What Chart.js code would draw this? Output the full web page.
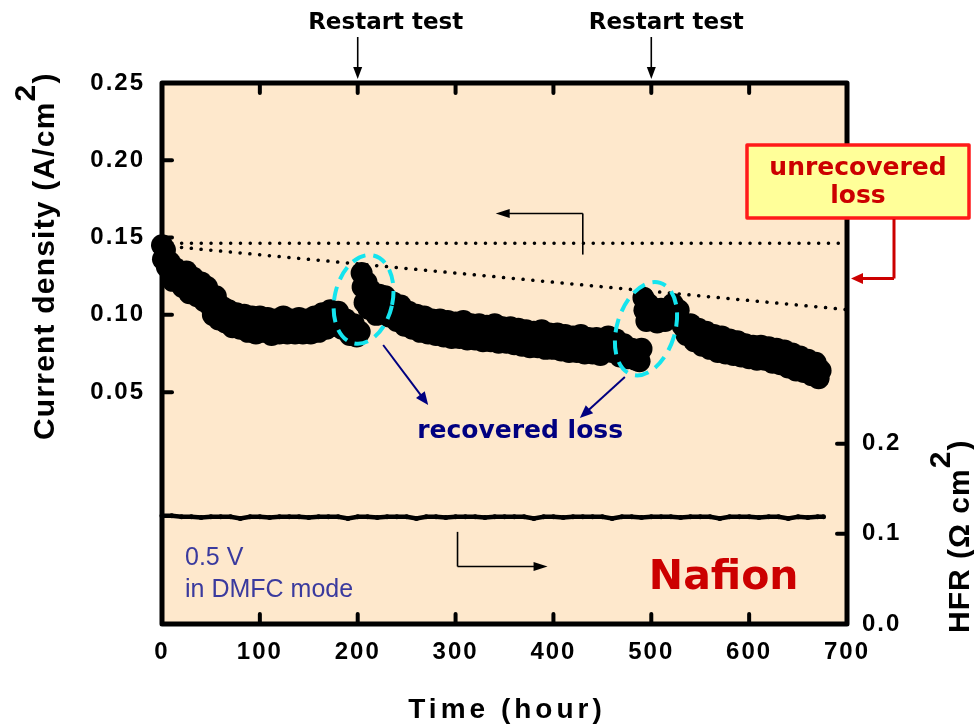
<!DOCTYPE html>
<html>
<head>
<meta charset="utf-8">
<script src="https://cdn.jsdelivr.net/npm/chart.js@4.4.1/dist/chart.umd.min.js"></script>
<style>
html, body { margin: 0; padding: 0; background: #fff; }
#wrap { width: 974px; height: 725px; }
</style>
</head>
<body>
<div id="wrap"><canvas id="chart" width="974" height="725"></canvas></div>
<script>
// current density (A/cm2) vs time (hour)
var cdHours = [
  0,1,3,5,8,11,14,18,21,25,
  28,32,36,40,43,46,49,52,55,58,
  62,65,68,72,76,80,84,88,92,96,
  100,104,108,112,116,120,124,128,132,136,
  140,144,148,152,156,160,164,168,172,176,
  180,184,188,192,196,199,202,204,205,207,
  209,211,213,216,219,222,225,228,232,236,
  240,244,248,252,256,260,264,268,272,276,
  280,284,288,292,296,300,304,308,312,316,
  320,324,328,332,336,340,344,348,352,356,
  360,364,368,372,376,380,384,388,392,396,
  400,404,408,412,416,420,424,428,432,436,
  440,444,448,452,456,460,464,468,472,476,
  480,484,488,490,492,493,495,497,500,503,
  506,510,514,518,522,525,528,532,536,540,
  544,548,552,556,560,564,568,572,576,580,
  584,588,592,596,600,604,608,612,616,620,
  624,628,632,636,640,644,648,652,656,660,
  664,668,671,673
];
var cdValues = [
  .145,.136,.142,.131,.134,.122,.130,.126,.118,.128,
  .114,.124,.112,.121,.109,.118,.106,.100,.112,.097,
  .105,.095,.103,.092,.101,.091,.100,.089,.099,.088,
  .099,.089,.098,.087,.097,.088,.099,.088,.097,.088,
  .098,.088,.097,.088,.099,.089,.101,.091,.103,.093,
  .102,.091,.097,.087,.094,.086,.089,.127,.118,.108,
  .121,.104,.116,.109,.100,.113,.102,.112,.099,.108,
  .096,.106,.093,.102,.091,.100,.089,.099,.088,.097,
  .087,.097,.086,.096,.085,.095,.085,.096,.084,.094,
  .084,.094,.083,.093,.083,.094,.082,.092,.082,.092,
  .081,.091,.080,.090,.079,.089,.079,.090,.078,.088,
  .078,.088,.077,.087,.076,.086,.076,.087,.075,.085,
  .075,.085,.074,.084,.086,.076,.084,.073,.081,.072,
  .078,.071,.070,.078,.111,.103,.096,.107,.097,.104,
  .095,.104,.096,.103,.107,.098,.103,.093,.087,.094,
  .083,.091,.080,.089,.078,.087,.076,.086,.075,.084,
  .074,.083,.073,.081,.072,.080,.071,.080,.071,.079,
  .069,.078,.068,.077,.066,.075,.064,.073,.063,.071,
  .061,.069,.059,.064
];

// HFR (ohm cm2) vs time
var hfrHours = [0,10,20,30,40,50,60,70,80,90,100,110,120,130,140,150,160,170,180,190,
  200,210,220,230,240,250,260,270,280,290,300,310,320,330,340,350,360,370,380,390,
  400,410,420,430,440,450,460,470,480,490,500,510,520,530,540,550,560,570,580,590,
  600,610,620,630,640,650,660,670,676];
var hfrValues = [.120,.120,.119,.119,.118,.119,.119,.119,.117,.119,.119,.118,.119,.119,.119,.118,.119,.119,.119,.117,
  .119,.119,.118,.119,.119,.119,.117,.119,.119,.118,.119,.119,.119,.118,.119,.119,.119,.119,.117,.119,
  .119,.118,.119,.119,.119,.119,.117,.119,.119,.118,.119,.119,.119,.118,.119,.119,.119,.117,.119,.119,
  .119,.118,.119,.119,.117,.119,.118,.119,.119];

// dotted guide lines
var guideHours = [0, 700];
var flatGuide = [0.1463, 0.1463];
var slopeGuide = [0.1448, 0.1034];

var xTicks = [0, 100, 200, 300, 400, 500, 600, 700];
var leftTickLabels = [0.05, 0.10, 0.15, 0.20, 0.25];
var rightTickLabels = [0.0, 0.1, 0.2];
var restartHours = [200, 500];

function pts(xs, ys) {
  return xs.map(function (x, i) { return { x: x, y: ys[i] }; });
}

var SANS = '"Liberation Sans", Arial, sans-serif';
var VERD = '"DejaVu Sans", Verdana, sans-serif';

function line(c, x1, y1, x2, y2) {
  c.beginPath(); c.moveTo(x1, y1); c.lineTo(x2, y2); c.stroke();
}
function head(c, x, y, ang, len, wid) {
  c.save(); c.translate(x, y); c.rotate(ang);
  c.beginPath(); c.moveTo(0, 0); c.lineTo(-len, -wid / 2); c.lineTo(-len, wid / 2); c.closePath();
  c.fill(); c.restore();
}
function arrow(c, x1, y1, x2, y2, len, wid) {
  var ang = Math.atan2(y2 - y1, x2 - x1);
  line(c, x1, y1, x2 - Math.cos(ang) * len * 0.8, y2 - Math.sin(ang) * len * 0.8);
  head(c, x2, y2, ang, len, wid);
}
function supTitle(c, main, sup, tail, size, spacing) {
  c.letterSpacing = spacing + 'px';
  c.font = 'bold ' + size + 'px ' + SANS;
  c.textAlign = 'left'; c.textBaseline = 'alphabetic';
  var w1 = c.measureText(main).width;
  c.fillText(main, 0, 0);
  c.fillText(sup, w1, -size * 0.62);
  var w2 = c.measureText(sup).width;
  c.fillText(tail, w1 + w2, 0);
}

var decor = {
  id: 'decor',
  beforeDraw: function (chart) {
    chart.ctx.letterSpacing = '2px';
  },
  beforeDatasetsDraw: function (chart) {
    var a = chart.chartArea, c = chart.ctx;
    c.save();
    c.fillStyle = '#FEE8CC';
    c.fillRect(a.left, a.top, a.right - a.left, a.bottom - a.top);
    c.restore();
  },
  afterDatasetsDraw: function (chart) {
    var a = chart.chartArea, c = chart.ctx;
    var sx = chart.scales.x, sy = chart.scales.y, sy2 = chart.scales.y2;
    c.save();

    // frame and inward ticks
    c.strokeStyle = '#000'; c.lineWidth = 5; c.lineJoin = 'round';
    c.strokeRect(a.left, a.top, a.right - a.left, a.bottom - a.top);
    c.lineWidth = 4; c.lineCap = 'round';
    xTicks.slice(1, -1).forEach(function (v) {
      var px = sx.getPixelForValue(v);
      line(c, px, a.top, px, a.top + 10);
      line(c, px, a.bottom, px, a.bottom - 10);
    });
    leftTickLabels.slice(0, -1).forEach(function (v) {
      var py = sy.getPixelForValue(v);
      line(c, a.left, py, a.left + 10, py);
    });
    rightTickLabels.slice(1).forEach(function (v) {
      var py = sy2.getPixelForValue(v);
      line(c, a.right, py, a.right - 10, py);
    });

    // cyan dashed ellipses round the recovered jumps
    c.strokeStyle = '#14E4EE'; c.lineWidth = 4; c.lineCap = 'butt';
    c.setLineDash([14, 8]);
    c.beginPath();
    c.ellipse(sx.getPixelForValue(206), sy.getPixelForValue(0.110), 29, 45, 0.22, 0, Math.PI * 2);
    c.stroke();
    c.beginPath();
    c.ellipse(sx.getPixelForValue(494.6), sy.getPixelForValue(0.091), 29, 48, 0.3, 0, Math.PI * 2);
    c.stroke();
    c.setLineDash([]);

    // navy arrows to "recovered loss"
    c.strokeStyle = '#000080'; c.fillStyle = '#000080'; c.lineWidth = 2;
    arrow(c, sx.getPixelForValue(226), sy.getPixelForValue(0.0805), sx.getPixelForValue(272), sy.getPixelForValue(0.0417), 13, 11);
    arrow(c, sx.getPixelForValue(473), sy.getPixelForValue(0.0598), sx.getPixelForValue(427), sy.getPixelForValue(0.0333), 13, 11);
    c.font = 'bold 25px ' + VERD; c.letterSpacing = '0px';
    c.textAlign = 'center'; c.textBaseline = 'middle';
    c.fillText('recovered loss', sx.getPixelForValue(366), sy.getPixelForValue(0.0243));

    // black axis pointers
    c.strokeStyle = '#000'; c.fillStyle = '#000'; c.lineWidth = 1.6;
    var ux = sx.getPixelForValue(430);
    line(c, ux, sy.getPixelForValue(0.1390), ux, sy.getPixelForValue(0.1656));
    arrow(c, ux, sy.getPixelForValue(0.1656), sx.getPixelForValue(341), sy.getPixelForValue(0.1656), 14, 9);
    var lx = sx.getPixelForValue(302);
    line(c, lx, sy.getPixelForValue(-0.0404), lx, sy.getPixelForValue(-0.0628));
    arrow(c, lx, sy.getPixelForValue(-0.0628), sx.getPixelForValue(394), sy.getPixelForValue(-0.0628), 14, 9);

    // restart markers above the frame
    c.font = 'bold 23px ' + VERD;
    c.textBaseline = 'middle';
    restartHours.forEach(function (h, i) {
      var px = sx.getPixelForValue(h);
      c.lineWidth = 1.6;
      arrow(c, px, 37, px, a.top - 4, 12, 9);
      c.textAlign = 'center';
      c.fillText('Restart test', px + (i === 0 ? 28 : 15), 23);
    });

    // in-plot notes
    c.fillStyle = '#3A3A9E'; c.font = '25px ' + SANS; c.textAlign = 'left';
    c.fillText('0.5 V', a.left + 23, sy.getPixelForValue(-0.0572));
    c.fillText('in DMFC mode', a.left + 23, sy.getPixelForValue(-0.0779));
    c.fillStyle = '#CC0000'; c.font = 'bold 41px ' + VERD; c.textAlign = 'center';
    c.fillText('Nafion', sx.getPixelForValue(574), sy.getPixelForValue(-0.0702));

    // unrecovered loss callout
    c.fillStyle = '#FFFF99'; c.strokeStyle = '#FF1A1A'; c.lineWidth = 3.5;
    c.fillRect(747, 145, 222, 73); c.strokeRect(747, 145, 222, 73);
    c.fillStyle = '#CC0000'; c.font = 'bold 25px ' + VERD;
    c.fillText('unrecovered', 858, 168);
    c.fillText('loss', 858, 196);
    c.strokeStyle = '#CC0000'; c.fillStyle = '#CC0000'; c.lineWidth = 3;
    var cy = sy.getPixelForValue(0.1235);
    line(c, 894, 219, 894, cy);
    arrow(c, 894, cy, a.right + 4, cy, 12, 11);

    // axis titles
    c.fillStyle = '#000';
    c.save(); c.translate(54, 440); c.rotate(-Math.PI / 2);
    supTitle(c, 'Current density (A/cm', '2', ')', 30, 1.2);
    c.restore();
    c.save(); c.translate(969, 633); c.rotate(-Math.PI / 2);
    supTitle(c, 'HFR (\u03A9 cm', '2', ')', 30, 1);
    c.restore();
    c.letterSpacing = '4px';
    c.font = 'bold 28px ' + SANS; c.textAlign = 'center'; c.textBaseline = 'middle';
    c.fillText('Time (hour)', 507, 710);

    c.restore();
  }
};

var tickFont = { family: SANS, size: 24, weight: 'bold' };

new Chart(document.getElementById('chart'), {
  type: 'scatter',
  data: {
    datasets: [
      {
        label: 'Current density',
        data: pts(cdHours, cdValues),
        yAxisID: 'y',
        pointRadius: 11,
        pointBorderWidth: 0,
        pointBackgroundColor: '#000',
        pointBorderColor: '#000',
        showLine: false,
        clip: false,
        order: 1
      },
      {
        label: 'HFR',
        data: pts(hfrHours, hfrValues),
        yAxisID: 'y2',
        showLine: true,
        borderColor: '#000',
        borderWidth: 4.5,
        pointRadius: 2.5,
        pointBackgroundColor: '#000',
        pointBorderWidth: 0,
        clip: false,
        order: 2
      },
      {
        label: 'flat guide',
        data: pts(guideHours, flatGuide),
        yAxisID: 'y',
        showLine: true,
        borderColor: '#000',
        borderWidth: 3.5,
        borderDash: [0.1, 9.7],
        borderCapStyle: 'round',
        pointRadius: 0,
        order: 3
      },
      {
        label: 'slope guide',
        data: pts(guideHours, slopeGuide),
        yAxisID: 'y',
        showLine: true,
        borderColor: '#000',
        borderWidth: 3.5,
        borderDash: [0.1, 9.7],
        borderCapStyle: 'round',
        pointRadius: 0,
        order: 3
      }
    ]
  },
  options: {
    responsive: false,
    animation: false,
    events: [],
    layout: { padding: { top: 83, left: 0, right: 0, bottom: 0 } },
    plugins: { legend: { display: false }, tooltip: { enabled: false }, title: { display: false } },
    scales: {
      x: {
        type: 'linear', min: 0, max: 700,
        grid: { display: false, drawTicks: false },
        border: { display: false },
        ticks: { stepSize: 100, color: '#000', font: tickFont, padding: 14, maxRotation: 0 },
        afterFit: function (s) { s.height = 101; }
      },
      y: {
        type: 'linear', position: 'left', min: -0.1, max: 0.25,
        grid: { display: false, drawTicks: false },
        border: { display: false },
        ticks: {
          stepSize: 0.05, color: '#000', font: tickFont, padding: 17,
          callback: function (v) { return v > 0.049 ? v.toFixed(2) : ''; }
        },
        afterFit: function (s) { s.width = 162; }
      },
      y2: {
        type: 'linear', position: 'right', min: 0, max: 0.6,
        grid: { display: false, drawTicks: false },
        border: { display: false },
        ticks: {
          stepSize: 0.1, color: '#000', font: tickFont, padding: 15,
          callback: function (v) { return v < 0.21 ? v.toFixed(1) : ''; }
        },
        afterFit: function (s) { s.width = 127; }
      }
    }
  },
  plugins: [decor]
});
</script>
</body>
</html>
